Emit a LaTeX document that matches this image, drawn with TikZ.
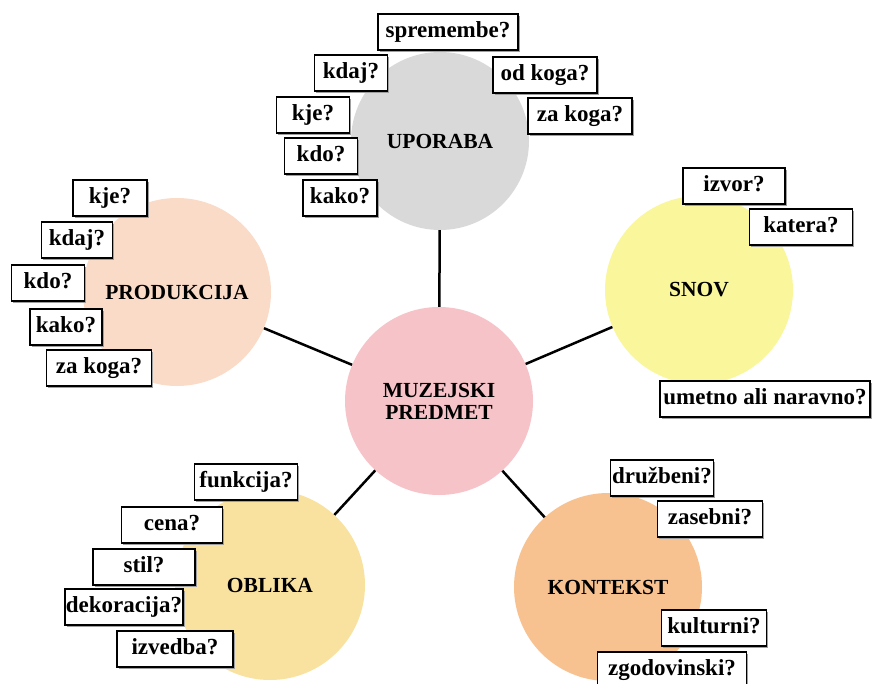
\documentclass[tikz,border=0pt]{standalone}
\usepackage{fontspec}
\setmainfont{Liberation Serif}
\usetikzlibrary{shadows}
\definecolor{cgray}{HTML}{D9D9D9}
\definecolor{cpeach}{HTML}{FADBC8}
\definecolor{cyel}{HTML}{F9F69C}
\definecolor{cpink}{HTML}{F6C3C8}
\definecolor{cgold}{HTML}{F9E2A0}
\definecolor{corange}{HTML}{F8C290}
\tikzset{
  topic/.style={circle, draw=none, inner sep=0pt, minimum size=188pt,
    font=\fontsize{21.5}{22}\selectfont\bfseries, align=center},
  link/.style={draw=black, line width=2.5pt},
  qbox/.style={draw=black, line width=1.1pt, fill=white, minimum height=36pt,
    inner sep=0pt, text height=15.5pt, text depth=4.5pt,
    font=\fontsize{23}{23}\selectfont\bfseries,
    drop shadow={shadow xshift=1.6pt, shadow yshift=-1.6pt, fill=gray!75, opacity=1}}
}
\begin{document}
\begin{tikzpicture}[x=1pt,y=-1pt]
\useasboundingbox (0,0) rectangle (872,684);
% circles
\node[topic, fill=cgray, minimum size=178pt] (upo) at (440,141) {UPORABA};
\node[topic, fill=cpeach] (pro) at (177,292) {PRODUKCIJA};
\node[topic, fill=cyel] (snov) at (699,290) {SNOV};
\node[topic, fill=cpink] (mid) at (439,401) {MUZEJSKI\\PREDMET};
\node[topic, fill=cgold, minimum size=190pt] (obl) at (270,585) {OBLIKA};
\node[topic, fill=corange] (kon) at (608,587) {KONTEKST};
% links
\draw[link] (upo) -- (mid);
\draw[link] (pro) -- (mid);
\draw[link] (snov) -- (mid);
\draw[link] (obl) -- (mid);
\draw[link] (kon) -- (mid);
% UPORABA boxes
\node[qbox, minimum width=140pt] (u1) at (448,32) {spremembe?};
\node[qbox, minimum width=73pt] (u2) at (351,73) {kdaj?};
\node[qbox, minimum width=104pt] (u3) at (545,75) {od koga?};
\node[qbox, minimum width=104pt] (u4) at (580,116) {za koga?};
\node[qbox, minimum width=73pt] (u5) at (313,115) {kje?};
\node[qbox, minimum width=73pt] (u6) at (321,156) {kdo?};
\node[qbox, minimum width=74pt] (u7) at (340,198) {kako?};
% PRODUKCIJA boxes
\node[qbox, minimum width=74pt] (p1) at (110,198) {kje?};
\node[qbox, minimum width=71pt] (p2) at (77,240) {kdaj?};
\node[qbox, minimum width=73pt] (p3) at (48,283) {kdo?};
\node[qbox, minimum width=72pt] (p4) at (66,327) {kako?};
\node[qbox, minimum width=105pt] (p5) at (99,368) {za koga?};
% SNOV boxes
\node[qbox, minimum width=102pt] (s1) at (734,186) {izvor?};
\node[qbox, minimum width=103pt] (s2) at (801,227) {katera?};
\node[qbox, minimum width=210pt] (s3) at (765,399) {umetno ali naravno?};
% OBLIKA boxes
\node[qbox, minimum width=103pt] (o1) at (246,482) {funkcija?};
\node[qbox, minimum width=101pt] (o2) at (172,525) {cena?};
\node[qbox, minimum width=102pt] (o3) at (144,567) {stil?};
\node[qbox, minimum width=118pt] (o4) at (124,607) {dekoracija?};
\node[qbox, minimum width=116pt] (o5) at (175,649) {izvedba?};
% KONTEKST boxes
\node[qbox, minimum width=103pt] (k1) at (662,478) {družbeni?};
\node[qbox, minimum width=105pt] (k2) at (710,519) {zasebni?};
\node[qbox, minimum width=105pt] (k3) at (714,628) {kulturni?};
\node[qbox, minimum width=149pt] (k4) at (672,670) {zgodovinski?};
\end{tikzpicture}
\end{document}
